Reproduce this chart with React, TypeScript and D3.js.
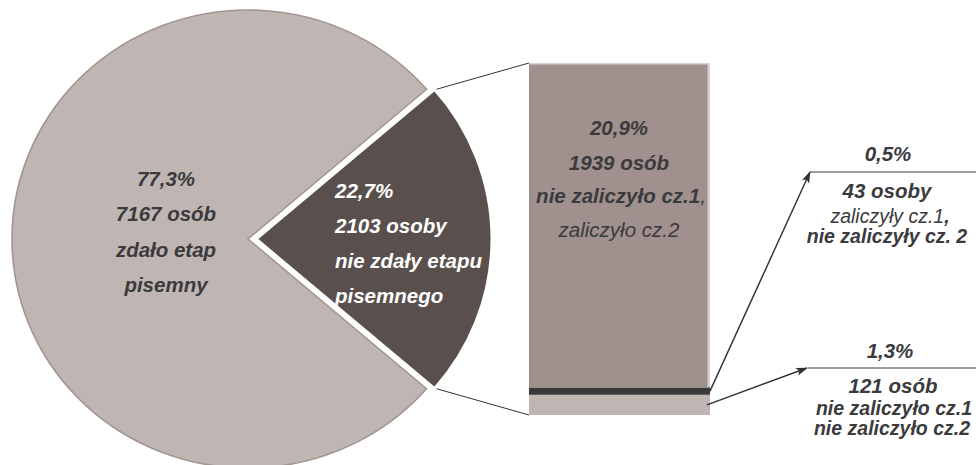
import * as React from "react";
import { arc, pie, scaleLinear, sum } from "d3";

// pie: written exam result
const pieKeys = ["fail", "pass"];
const pieValues = [2103, 7167];
const piePct = ["22,7%", "77,3%"];
const pieCounts = ["2103 osoby", "7167 osób"];
const pieDesc = [
  ["nie zdały etapu", "pisemnego"],
  ["zdało etap", "pisemny"],
];

// bar: breakdown of those who failed (bottom -> top)
const barKeys = ["both", "part2", "part1"];
const barValues = [121, 43, 1939];
const barPct = ["1,3%", "0,5%", "20,9%"];
const barCounts = ["121 osób", "43 osoby", "1939 osób"];

const W = 976;
const H = 465;
const FONT = "'Liberation Sans', Arial, sans-serif";
const TXT = "#3b3a3d";

const pieColors = ["#59504d", "#bfb6b3"];
const barColors = ["#bfb5b2", "#3a393c", "#a0918e"];

export default function App() {
  const rx = 236;
  const ry = 229;
  const cy = 239;
  const cxLight = 248;
  const cxDark = 256;

  const darkAngle = (pieValues[0] / sum(pieValues)) * Math.PI * 2;
  const slices = pie<number>()
    .sort(null)
    .startAngle(Math.PI / 2 - darkAngle / 2)
    .endAngle(Math.PI / 2 - darkAngle / 2 + Math.PI * 2)(pieValues);
  const arcGen = arc<any>().innerRadius(0).outerRadius(rx);

  const edge = (cx: number, a: number) => [cx + rx * Math.sin(a), cy - ry * Math.cos(a)];
  const pUp = edge(cxDark, slices[0].startAngle);
  const pDown = edge(cxDark, slices[0].endAngle);

  // bar
  const barX0 = 529;
  const barX1 = 710;
  const yScale = scaleLinear().domain([0, sum(barValues)]).range([415, 63]);
  let acc = 0;
  const segs = barValues.map((v, i) => {
    const s = { key: barKeys[i], y0: acc, y1: acc + v, i };
    acc += v;
    return s;
  });
  const yMid = (s: any) => (yScale(s.y0) + yScale(s.y1)) / 2;

  const bold = { fontWeight: 700, fontStyle: "italic" } as const;
  const reg = { fontWeight: 400, fontStyle: "italic" } as const;

  return (
    <svg
      width={W}
      height={H}
      style={{ position: "absolute", left: 0, top: 0, background: "#fff" }}
      fontFamily={FONT}
      fontSize={20.5}
    >
      <defs>
        <marker id="arr" viewBox="0 0 12 8" refX="11" refY="4" markerWidth="12" markerHeight="8"
          markerUnits="userSpaceOnUse" orient="auto">
          <path d="M0,0 L12,4 L0,8 L3,4 Z" fill="#2f2f31" />
        </marker>
      </defs>

      {/* pie */}
      <g transform={`translate(${cxLight},${cy}) scale(1,${ry / rx})`}>
        <path d={arcGen(slices[1]) || ""} fill={pieColors[1]} stroke="#a2958f" strokeWidth={1.6}
          vectorEffect="non-scaling-stroke" />
      </g>
      <g transform={`translate(${cxDark},${cy}) scale(1,${ry / rx})`}>
        <path d={arcGen(slices[0]) || ""} fill={pieColors[0]} stroke="#fff" strokeWidth={3}
          strokeLinejoin="miter" vectorEffect="non-scaling-stroke" />
      </g>

      {/* pie labels */}
      <g fill={TXT} textAnchor="middle" style={bold}>
        {[piePct[1], pieCounts[1], ...pieDesc[1]].map((t, i) => (
          <text key={i} x={166} y={186 + i * 35.3}>{t}</text>
        ))}
      </g>
      <g fill="#fff" style={bold}>
        {[piePct[0], pieCounts[0], ...pieDesc[0]].map((t, i) => (
          <text key={i} x={335} y={198 + i * 35}>{t}</text>
        ))}
      </g>

      {/* connectors */}
      <line x1={pUp[0] + 2} y1={pUp[1]} x2={barX0} y2={yScale.range()[1]} stroke="#333" strokeWidth={1} />
      <line x1={pDown[0] + 2} y1={pDown[1]} x2={barX0} y2={yScale.range()[0]} stroke="#333" strokeWidth={1} />

      {/* bar */}
      <rect x={barX0} y={yScale.range()[1]} width={barX1 - barX0} height={yScale.range()[0] - yScale.range()[1]}
        fill="#d6d0ce" />
      {segs.map((s) => (
        <rect key={s.key} x={barX0} y={yScale(s.y1) + (s.i === 2 ? 1.5 : 0)}
          width={barX1 - barX0 - (s.i === 2 ? 2.5 : 0)}
          height={yScale(s.y0) - yScale(s.y1) - (s.i === 2 ? 1.5 : 0)} fill={barColors[s.i]} />
      ))}
      <g fill={TXT} textAnchor="middle">
        <text x={619} y={135} style={bold}>{barPct[2]}</text>
        <text x={619} y={170} style={bold}>{barCounts[2]}</text>
        <text x={621} y={203}>
          <tspan style={bold}>nie zaliczyło cz.1</tspan>
          <tspan style={reg}>,</tspan>
        </text>
        <text x={619} y={237} style={reg}>zaliczyło cz.2</text>
      </g>

      {/* arrows */}
      <line x1={barX1} y1={yMid(segs[1])} x2={810} y2={172} stroke="#2f2f31" strokeWidth={1.4}
        markerEnd="url(#arr)" />
      <line x1={barX1 - 3} y1={yMid(segs[0])} x2={807} y2={368} stroke="#2f2f31" strokeWidth={1.4}
        markerEnd="url(#arr)" />
      <line x1={810} y1={172} x2={W} y2={172} stroke="#3b3a3d" strokeWidth={1.2} />
      <line x1={808} y1={368} x2={W} y2={368} stroke="#3b3a3d" strokeWidth={1.2} />

      {/* side labels */}
      <g fill={TXT} textAnchor="middle" fontSize={19.5}>
        <text x={888} y={161} style={bold} fontSize={20.5}>{barPct[1]}</text>
        <text x={887} y={198} style={bold} fontSize={20.5}>{barCounts[1]}</text>
        <text x={890} y={223}>
          <tspan style={reg}>zaliczyły cz.1</tspan>
          <tspan style={bold}>,</tspan>
        </text>
        <text x={887} y={243} style={bold}>nie zaliczyły cz. 2</text>

        <text x={890} y={358} style={bold} fontSize={20.5}>{barPct[0]}</text>
        <text x={893} y={393} style={bold} fontSize={20.5}>{barCounts[0]}</text>
        <text x={894} y={415} style={bold}>nie zaliczyło cz.1</text>
        <text x={892} y={435} style={bold}>nie zaliczyło cz.2</text>
      </g>
    </svg>
  );
}
